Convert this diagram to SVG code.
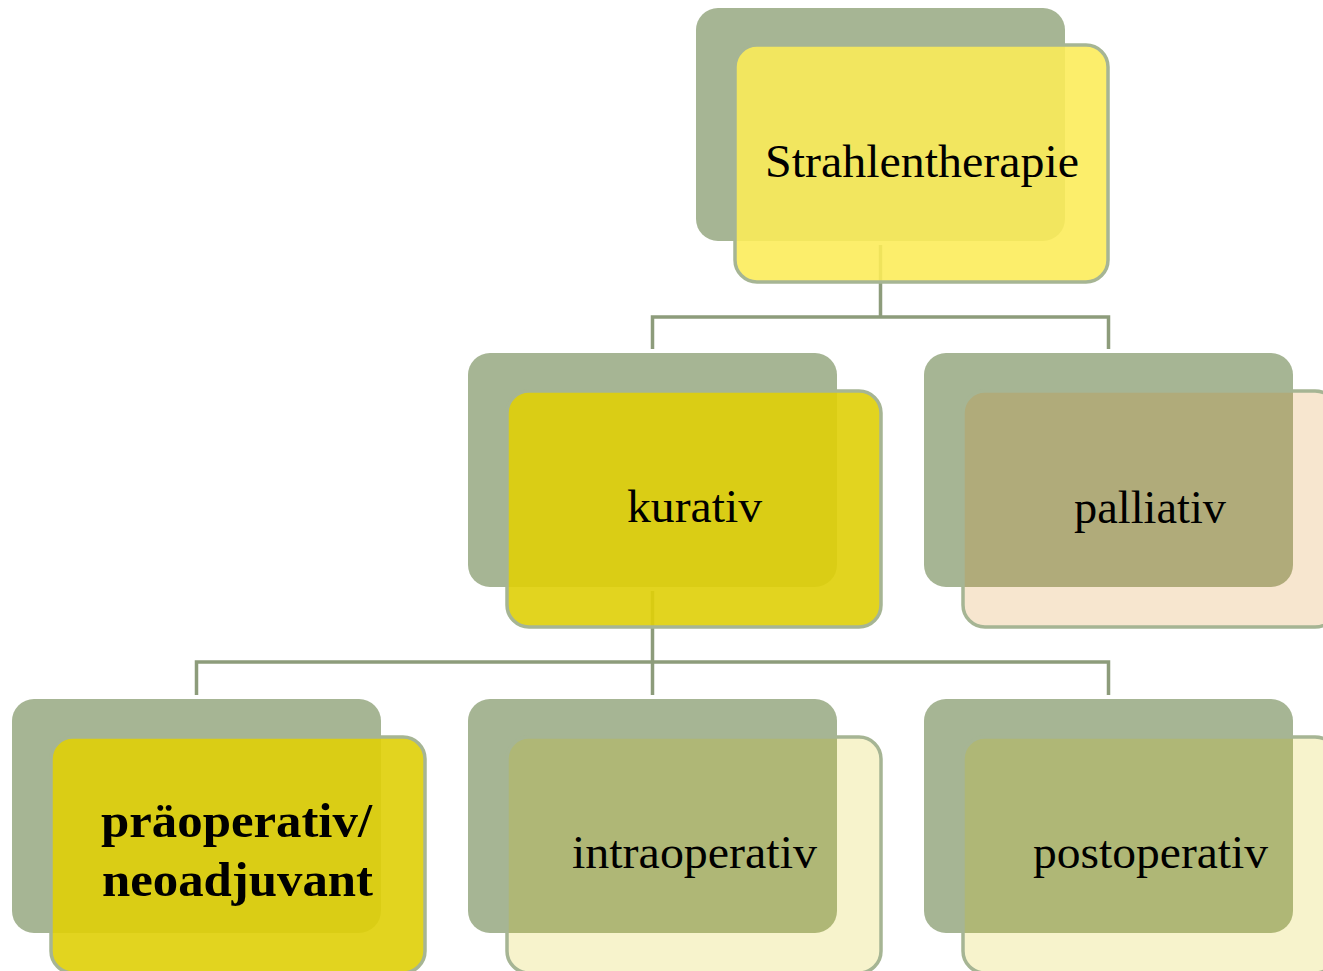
<svg xmlns="http://www.w3.org/2000/svg" width="1323" height="971" viewBox="0 0 1323 971">
<style>
.back{fill:#a6b594}
.front{stroke:#a6b594;stroke-width:3.5}
.conn{fill:none;stroke:#8d9c7b;stroke-width:3.5}
.t{font-family:"Liberation Serif","Times New Roman",serif;font-size:46px;fill:#000;text-anchor:middle}
.tb{font-family:"Liberation Serif","Times New Roman",serif;font-size:49px;font-weight:bold;fill:#000;text-anchor:middle}
</style>
<rect width="1323" height="971" fill="#ffffff"/>
<g id="connectors">
<path class="conn" d="M880.5 245 V317 M652.5 349 V317 H1108.5 V349"/>
<path class="conn" d="M652.5 591 V695 M196.5 695 V662 H1108.5 V695"/>
</g>
<g id="node-strahlentherapie">
<rect class="back" x="696" y="8" width="369" height="233" rx="22"/>
<rect class="front" x="735" y="45" width="373" height="237" rx="22" fill="#fcec59" fill-opacity="0.89"/>
<text class="t" x="922" y="177" textLength="314" lengthAdjust="spacingAndGlyphs">Strahlentherapie</text>
</g>
<g id="node-kurativ">
<rect class="back" x="468" y="353" width="369" height="234" rx="22"/>
<rect class="front" x="507" y="391" width="374" height="236" rx="22" fill="#dfd009" fill-opacity="0.91"/>
<text class="t" x="694.5" y="522" textLength="135" lengthAdjust="spacingAndGlyphs">kurativ</text>
</g>
<g id="node-palliativ">
<rect class="back" x="924" y="353" width="369" height="234" rx="22"/>
<rect class="front" x="963" y="391" width="374" height="236" rx="22" fill="#d8891c" fill-opacity="0.21"/>
<text class="t" x="1150" y="523" textLength="152" lengthAdjust="spacingAndGlyphs">palliativ</text>
</g>
<g id="node-praeoperativ">
<rect class="back" x="12" y="699" width="369" height="234" rx="22"/>
<rect class="front" x="51" y="737" width="374" height="236" rx="22" fill="#dfd009" fill-opacity="0.91"/>
<text class="tb" x="236.5" y="837" textLength="271" lengthAdjust="spacingAndGlyphs">präoperativ/</text>
<text class="tb" x="237.5" y="896" textLength="271" lengthAdjust="spacingAndGlyphs">neoadjuvant</text>
</g>
<g id="node-intraoperativ">
<rect class="back" x="468" y="699" width="369" height="234" rx="22"/>
<rect class="front" x="507" y="737" width="374" height="236" rx="22" fill="#d7c300" fill-opacity="0.2"/>
<text class="t" x="694.5" y="868" textLength="245" lengthAdjust="spacingAndGlyphs">intraoperativ</text>
</g>
<g id="node-postoperativ">
<rect class="back" x="924" y="699" width="369" height="234" rx="22"/>
<rect class="front" x="963" y="737" width="374" height="236" rx="22" fill="#d7c300" fill-opacity="0.2"/>
<text class="t" x="1150.5" y="868" textLength="235" lengthAdjust="spacingAndGlyphs">postoperativ</text>
</g>
</svg>
